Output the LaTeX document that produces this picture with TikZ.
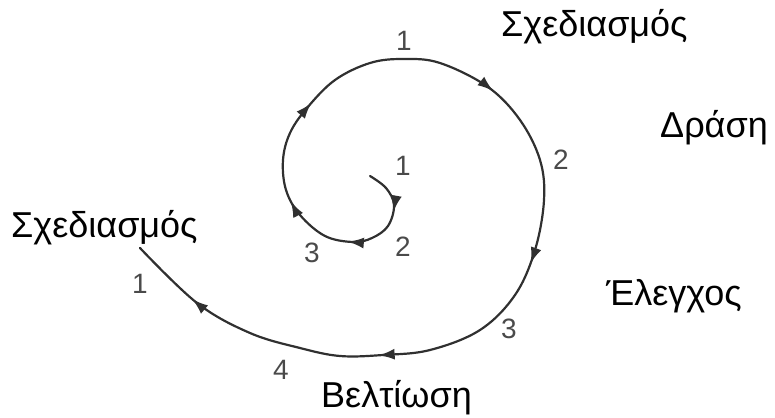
\documentclass[tikz,border=0pt]{standalone}
\usepackage{fontspec}
\setmainfont{Liberation Sans}
\usepackage{tikz}
\usetikzlibrary{arrows.meta, decorations.markings}
\usepackage{xcolor}

\definecolor{spiralgray}{HTML}{303030}
\definecolor{numgray}{HTML}{4A4A4A}

\tikzset{
  phase/.style={anchor=base west, inner sep=0pt, font=\fontsize{36}{40}\selectfont},
  step num/.style={text=numgray, inner sep=0pt, font=\fontsize{28}{30}\selectfont},
  mid arrow/.style={postaction={decorate, decoration={markings,
      mark=at position #1 with {\arrow{Latex[length=16pt,width=11pt]}}}}}
}

\begin{document}
\begin{tikzpicture}[x=1pt, y=-1pt]
    \useasboundingbox (0,0) rectangle (775,417);

    % Spiral
    \draw[spiralgray, line width=2.2pt, line cap=round,
          mid arrow=0.040, mid arrow=0.093, mid arrow=0.157, mid arrow=0.251,
          mid arrow=0.429, mid arrow=0.595, mid arrow=0.762, mid arrow=0.936]
      plot[smooth, tension=0.6] coordinates {
        (370,176) (386,188) (394,205) (388,226) (372,238) (353,242)
        (325,236) (300,215) (286,190) (283,160) (290,133) (307,108)
        (335,80) (370,63) (403,59) (440,63) (488,87) (520,120)
        (540,160) (544,200) (535,250) (515,295) (480,330) (430,350)
        (383,355) (340,356) (300,348) (250,333) (197,303) (140,248)};

    % Phases
    \node[phase] (plantop) at (501,37) {Σχεδιασμός};
    \node[phase] (act) at (660,137) {Δράση};
    \node[phase] (check) at (606,305) {Έλεγχος};
    \node[phase] (improve) at (321,407) {Βελτίωση};
    \node[phase] (planleft) at (11,237) {Σχεδιασμός};

    % Step numbers, inner loop
    \node[step num] (in1) at (403,166) {1};
    \node[step num] (in2) at (403,247) {2};
    \node[step num] (in3) at (312,253) {3};

    % Step numbers, outer loop
    \node[step num] (out1) at (404,41) {1};
    \node[step num] (out2) at (561,160) {2};
    \node[step num] (out3) at (509,329) {3};
    \node[step num] (out4) at (281,370) {4};
    \node[step num] (out5) at (140,284) {1};
\end{tikzpicture}
\end{document}
